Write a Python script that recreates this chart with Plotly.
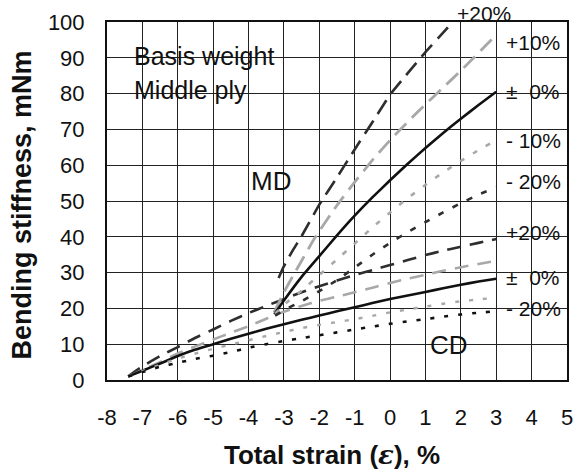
import plotly.graph_objects as go

# ---------------- data ----------------
# CD curves (all start at the common point near -7.4 %)
cd_x = [-7.4, -7.0, -6.5, -6.0, -5.5, -5.0, -4.5, -4.0, -3.5, -3.0, -2.5, -2.0, -1.5, -1.0,
        -0.5, 0.0, 0.5, 1.0, 1.5, 2.0, 2.5, 3.0]
cd_p20 = [1.0, 3.8, 6.7, 9.2, 11.8, 14.1, 16.5, 18.7, 20.7, 22.6, 24.5, 26.2, 27.8, 29.3,
          30.7, 32.1, 33.5, 34.9, 36.1, 37.2, 38.3, 39.4]
cd_p10 = [1.0, 2.8, 5.0, 7.4, 9.4, 11.3, 13.2, 15.0, 17.1, 19.1, 20.7, 22.1, 23.3, 24.5,
          25.8, 27.1, 28.3, 29.4, 30.5, 31.5, 32.4, 33.3]
cd_0 = [1.0, 2.6, 4.6, 6.7, 8.5, 10.0, 11.5, 12.9, 14.3, 15.6, 16.8, 18.0, 19.2, 20.3,
        21.5, 22.6, 23.6, 24.6, 25.6, 26.6, 27.5, 28.3]
cd_m10 = [1.0, 2.5, 4.3, 6.0, 7.4, 8.7, 9.9, 11.1, 12.3, 13.4, 14.5, 15.4, 16.2, 17.0,
          17.9, 18.9, 19.7, 20.5, 21.3, 22.0, 22.5, 23.0]
cd_m20 = [1.0, 2.2, 3.7, 4.8, 5.9, 6.8, 7.8, 9.0, 10.0, 10.9, 11.7, 12.5, 13.3, 14.1,
          14.9, 15.7, 16.4, 17.0, 17.7, 18.3, 18.8, 19.2]

# MD curves (start near -3.3 %)
md_p20_x = [-3.15, -3.0, -2.75, -2.5, -2.0, -1.5, -1.0, -0.5, 0.0, 0.5, 1.0, 1.5, 1.77]
md_p20 = [28.5, 31.8, 36.2, 40.2, 49.0, 56.6, 64.4, 72.0, 79.7, 85.7, 91.6, 97.0, 100.0]
md_p10_x = [-3.28, -3.0, -2.75, -2.5, -2.2, -2.0, -1.5, -1.0, -0.5, 0.0, 0.5, 1.0, 1.5, 2.0, 2.5, 3.0]
md_p10 = [18.8, 24.5, 29.0, 33.3, 38.5, 41.6, 48.8, 55.3, 61.4, 67.0, 72.1, 77.0, 81.7, 86.4, 91.4, 96.4]
md_x = [-3.27, -3.0, -2.5, -2.0, -1.5, -1.0, -0.5, 0.0, 0.5, 1.0, 1.5, 2.0, 2.5, 3.0]
md_0 = [18.4, 22.2, 28.8, 34.6, 40.4, 45.9, 51.0, 55.8, 60.4, 64.8, 69.0, 73.0, 76.8, 80.5]
md_m10_x = [-3.25, -3.0, -2.5, -2.0, -1.5, -1.0, -0.5, 0.0, 0.5, 1.0, 1.5, 2.0, 2.5, 3.0]
md_m10 = [18.5, 21.0, 25.0, 29.3, 33.7, 38.1, 42.6, 46.8, 50.8, 54.5, 58.0, 61.2, 64.2, 67.0]
md_m20_x = [-3.25, -3.0, -2.5, -2.0, -1.5, -1.0, -0.5, 0.0, 0.5, 1.0, 1.5, 2.0, 2.5, 3.0]
md_m20 = [18.0, 19.5, 22.0, 24.8, 27.9, 31.4, 35.0, 38.3, 41.3, 44.1, 46.8, 49.4, 51.8, 53.8]

x_ticks = list(range(-8, 6))
y_ticks = list(range(0, 101, 10))

md_labels = ["+10%", "±\u00a0\u00a00%", "-\u00a010%", "-\u00a020%"]
md_label_y = [94.2, 80.6, 67.0, 55.5]
cd_labels = ["+20%", "±\u00a0\u00a00%", "-\u00a020%"]
cd_label_y = [41.1, 28.6, 19.9]

# ---------------- styles ----------------
DARK = "#2e2e2e"
GRAY = "#a8a8a8"
FONT = "Liberation Sans, Arial, sans-serif"

fig = go.Figure()

def add(x, y, color, width, dash):
    fig.add_trace(go.Scatter(x=x, y=y, mode="lines", showlegend=False, hoverinfo="skip",
                             line=dict(color=color, width=width, dash=dash, shape="spline",
                                       smoothing=0.4)))

# CD family
add(cd_x, cd_p20, DARK, 2.6, "14px,9px")
add(cd_x, cd_p10, GRAY, 2.6, "14px,9px")
add(cd_x, cd_0, "#111111", 2.6, "solid")
add(cd_x, cd_m10, GRAY, 2.4, "4px,10px")
add(cd_x, cd_m20, "#111111", 2.6, "4px,10px")
# MD family
add(md_p20_x, md_p20, DARK, 2.6, "16px,8px")
add(md_p10_x, md_p10, GRAY, 2.8, "16px,8px")
add(md_x, md_0, "#111111", 2.6, "solid")
add(md_m10_x, md_m10, GRAY, 2.6, "5px,10px")
add(md_m20_x, md_m20, DARK, 2.6, "6px,10px")

ann = []
txt = dict(family=FONT, color="#111111")
ann.append(dict(x=-7.3, y=90.4, xref="x", yref="y", text="Basis weight", showarrow=False,
                xanchor="left", yanchor="middle", font=dict(size=25, **txt)))
ann.append(dict(x=-7.3, y=80.9, xref="x", yref="y", text="Middle ply", showarrow=False,
                xanchor="left", yanchor="middle", font=dict(size=25, **txt)))
ann.append(dict(x=-3.36, y=55.6, xref="x", yref="y", text="MD", showarrow=False,
                xanchor="center", yanchor="middle", font=dict(size=26, **txt)))
ann.append(dict(x=1.67, y=9.9, xref="x", yref="y", text="CD", showarrow=False,
                xanchor="center", yanchor="middle", font=dict(size=26, **txt)))
ann.append(dict(x=1.83, y=1.024, xref="x", yref="paper", text="+20%", showarrow=False,
                xanchor="left", yanchor="middle", font=dict(size=21, **txt)))
for t, yy in zip(md_labels + cd_labels, md_label_y + cd_label_y):
    ann.append(dict(x=3.22, y=yy, xref="x", yref="y", text=t, showarrow=False,
                    xanchor="left", yanchor="middle", font=dict(size=21, **txt)))
# axis titles
ann.append(dict(x=0.49, y=-0.21, xref="paper", yref="paper",
                text="<b>Total strain (<span style='font-family:DejaVu Serif'><i>ε</i></span>), %</b>",
                showarrow=False, xanchor="center", yanchor="middle",
                font=dict(size=26, family=FONT, color="#111111")))
ann.append(dict(x=-0.185, y=0.49, xref="paper", yref="paper",
                text="<b>Bending stiffness, mNm</b>", textangle=-90,
                showarrow=False, xanchor="center", yanchor="middle",
                font=dict(size=27, family=FONT, color="#111111")))

fig.update_layout(
    width=583, height=473,
    margin=dict(l=107, r=10, t=20, b=93),
    paper_bgcolor="white", plot_bgcolor="white",
    font=dict(family=FONT, size=21, color="#111111"),
    annotations=ann,
)
fig.update_xaxes(range=[-8, 5], tickmode="array", tickvals=x_ticks, ticktext=[str(v) for v in x_ticks],
                 showgrid=True, gridcolor="#222222", gridwidth=1.4,
                 showline=True, linecolor="#111111", linewidth=2, mirror=True,
                 ticks="outside", ticklen=17, tickcolor="rgba(0,0,0,0)",
                 zeroline=False, tickfont=dict(size=22))
fig.update_yaxes(range=[0, 100], tickmode="array", tickvals=y_ticks, ticktext=[str(v) for v in y_ticks],
                 showgrid=True, gridcolor="#222222", gridwidth=1.4,
                 showline=True, linecolor="#111111", linewidth=2, mirror=True,
                 ticks="outside", ticklen=16, tickcolor="rgba(0,0,0,0)",
                 zeroline=False, tickfont=dict(size=22))

fig.write_html("out.html")
